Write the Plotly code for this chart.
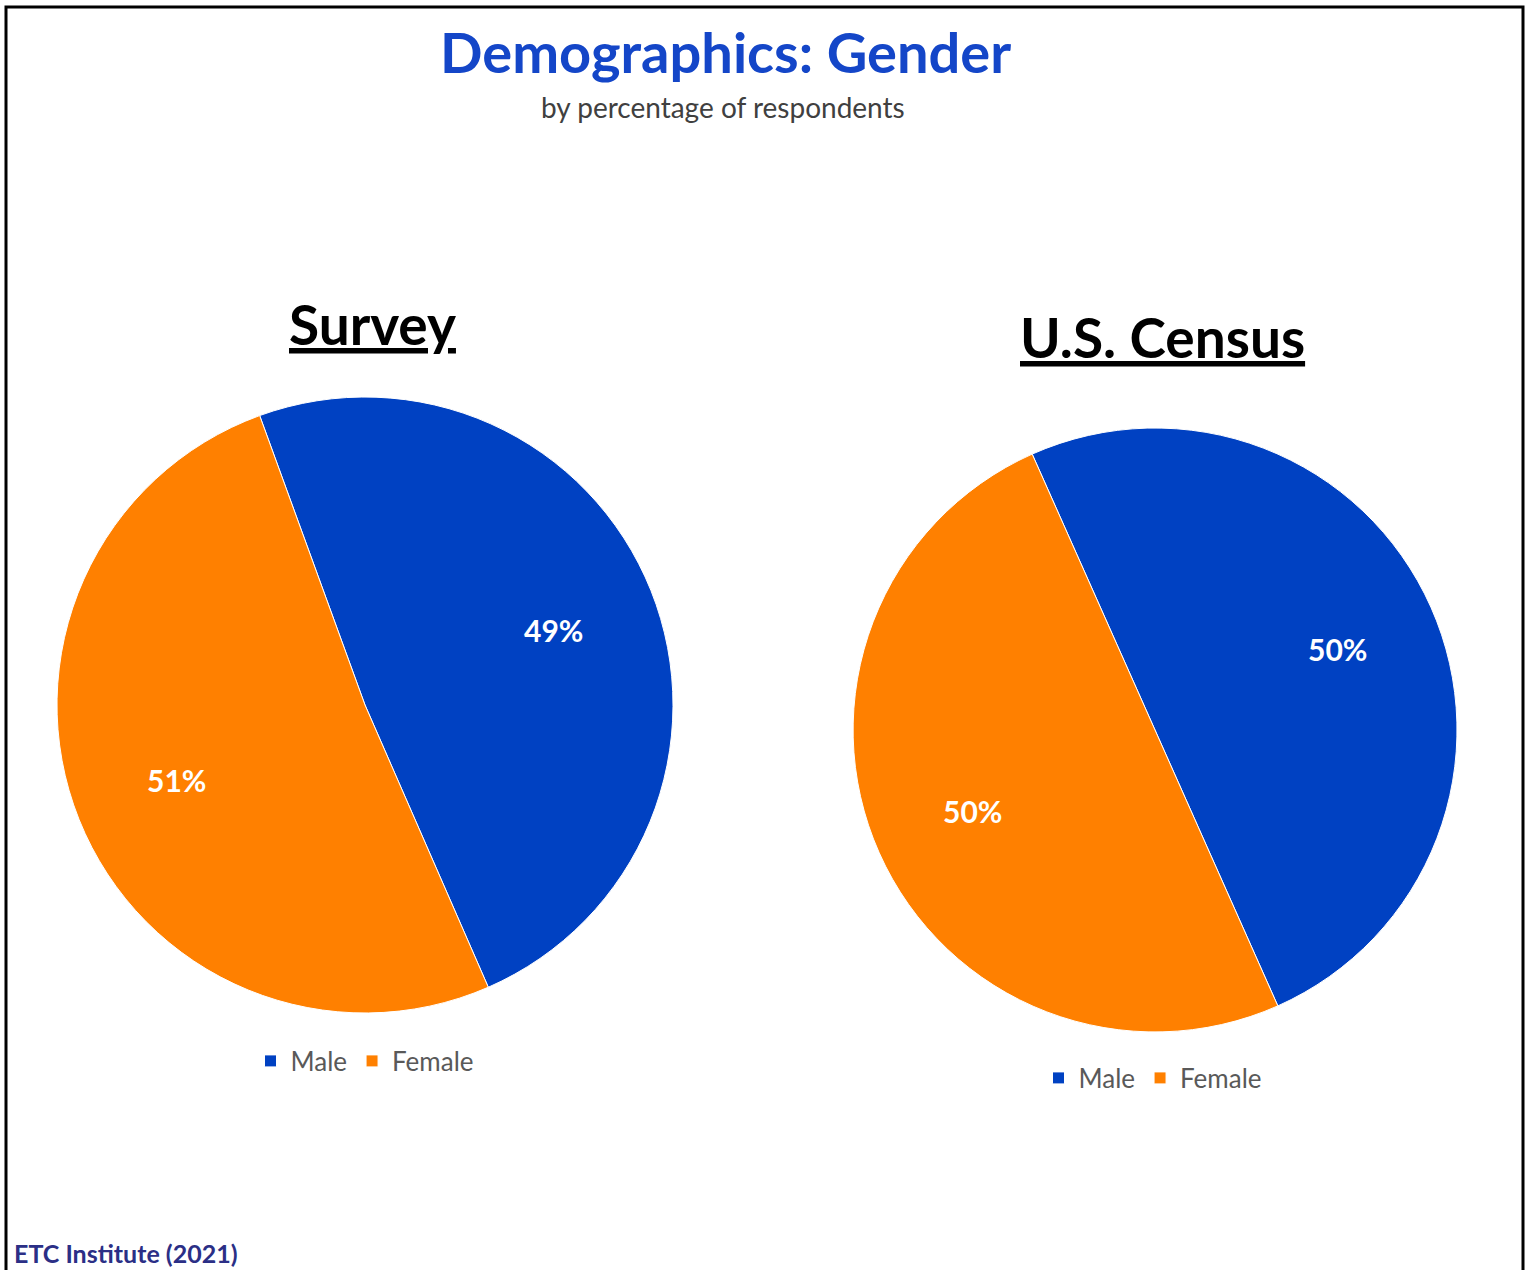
import math

import plotly.graph_objects as go

labels = ['Male', 'Female']
survey = [49, 51]
census = [50, 50]
colors = ['#0041C2', '#FF8000']

W, H = 1537, 1270
font = 'Lato'

# pie domains in pixels (left, top, right, bottom) and start angle
pies = [
    dict(name='survey', values=survey, box=(57, 397, 673, 1013), rotation=-20, legend='legend'),
    dict(name='census', values=census, box=(853, 428, 1457, 1032), rotation=-24, legend='legend2'),
]

fig = go.Figure()
annotations = []

for p in pies:
    l, t, r, b = p['box']
    fig.add_trace(go.Pie(
        labels=labels, values=p['values'], sort=False, direction='clockwise',
        rotation=p['rotation'],
        marker=dict(colors=colors, line=dict(color='white', width=1)),
        textinfo='none',
        domain=dict(x=[l / W, r / W], y=[1 - b / H, 1 - t / H]),
        legend=p['legend'], legendgroup=p['name'], hoverinfo='label+percent',
    ))
    # percent labels placed at the middle angle of each slice
    cx, cy, rad = (l + r) / 2, (t + b) / 2, (r - l) / 2
    total = sum(p['values'])
    start = p['rotation']
    for v in p['values']:
        mid = math.radians(start + 360 * v / total / 2)
        start += 360 * v / total
        px = cx + 0.66 * rad * math.sin(mid)
        py = cy - 0.66 * rad * math.cos(mid)
        annotations.append(dict(
            text='<b>%d%%</b>' % round(100 * v / total), x=px / W, y=1 - py / H,
            xref='paper', yref='paper', showarrow=False, xanchor='center', yanchor='middle',
            font=dict(family=font, size=30, color='white')))

legend_style = dict(orientation='h', xanchor='center', yanchor='middle', traceorder='normal',
                    font=dict(family=font, size=26, color='#595959'),
                    bgcolor='rgba(0,0,0,0)', itemclick=False)

annotations += [
    dict(text='<b>Demographics: Gender</b>', x=725 / W, y=1 - 52 / H, xref='paper', yref='paper',
         showarrow=False, xanchor='center', yanchor='middle',
         font=dict(family=font, size=56, color='#1446C8')),
    dict(text='by percentage of respondents', x=723 / W, y=1 - 107 / H, xref='paper', yref='paper',
         showarrow=False, xanchor='center', yanchor='middle',
         font=dict(family=font, size=28, color='#404040')),
    dict(text='<b><u>Survey</u></b>', x=372 / W, y=1 - 324 / H, xref='paper', yref='paper',
         showarrow=False, xanchor='center', yanchor='middle',
         font=dict(family=font, size=55, color='black')),
    dict(text='<b><u>U.S. Census</u></b>', x=1162 / W, y=1 - 337 / H, xref='paper', yref='paper',
         showarrow=False, xanchor='center', yanchor='middle',
         font=dict(family=font, size=55, color='black')),
    dict(text='<b>ETC Institute (2021)</b>', x=12 / W, y=1 - 1253 / H, xref='paper', yref='paper',
         showarrow=False, xanchor='left', yanchor='middle',
         font=dict(family=font, size=25, color='#2B2F86')),
]

fig.update_layout(
    width=W, height=H,
    margin=dict(l=0, r=0, t=0, b=0),
    paper_bgcolor='white',
    font=dict(family=font),
    legend=dict(x=365 / W, y=1 - 1061 / H, **legend_style),
    legend2=dict(x=1153 / W, y=1 - 1078 / H, **legend_style),
    annotations=annotations,
    shapes=[
        dict(type='rect', xref='paper', yref='paper', x0=6 / W, x1=1523 / W,
             y0=-0.01, y1=1 - 7 / H, line=dict(color='black', width=3)),
    ],
)

fig.write_html('out.html', config={'displayModeBar': False},
               post_script="document.body.style.margin='0';")
